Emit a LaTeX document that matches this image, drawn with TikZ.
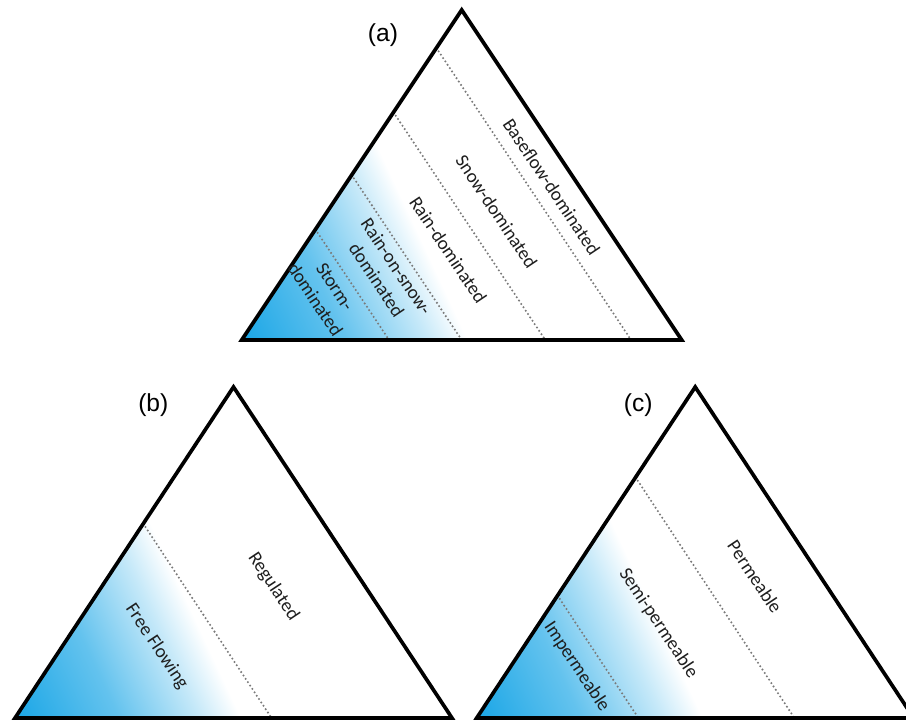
\documentclass[tikz,border=0pt]{standalone}
\usepackage{fontspec}
\setmainfont{Carlito}
\newfontfamily\tagfont{Liberation Sans}
\usepackage{xcolor}
\usepackage{tikz}
\usetikzlibrary{calc}
\definecolor{ink}{HTML}{1E1E1E}
\definecolor{water}{HTML}{1AA6E6}
\definecolor{dots}{HTML}{7A7A7A}
\pgfdeclarehorizontalshading{wetfade}{100bp}{color(0bp)=(water); color(25bp)=(water);
  color(48bp)=(water!68!white); color(66bp)=(water!25!white); color(75bp)=(white); color(100bp)=(white)}
\tikzset{
  tri/.style={draw=black, line width=2.1pt, line join=miter},
  div/.style={draw=dots, line width=1.3pt, line cap=round, dash pattern=on 0pt off 2.3pt},
  wet/.style={shading=wetfade},
  lab/.style={text=ink, font=\fontsize{10.8}{13.5}\selectfont, rotate=-56.31, align=center, inner sep=0pt},
  tag/.style={text=black, font=\tagfont\fontsize{14}{16}\selectfont, inner sep=0pt},
}

\begin{document}
\begin{tikzpicture}[x=0.02cm, y=0.02cm]
  \useasboundingbox (0,0) rectangle (906,720);
  \clip (0,0) rectangle (906,720);
  \def\fade{205}
  \def\tilt{25}

  % (a) streamflow regime
  \coordinate (La) at (241.7,380);
  \coordinate (Ra) at (681.7,380);
  \coordinate (Ta) at (461.7,710);
  % (b) regulation
  \coordinate (Lb) at (15,2);
  \coordinate (Rb) at (452,2);
  \coordinate (Tb) at (233.5,333);
  % (c) permeability
  \coordinate (Lc) at (476.7,2);
  \coordinate (Rc) at (913.7,2);
  \coordinate (Tc) at (695.2,333);

  \begin{scope}
    \clip (La) -- (Ta) -- (Ra) -- cycle;
    \shade[wet, transform canvas={rotate around={\tilt:(La)}}]
      ($(La)+(0,-\fade)$) rectangle ($(La)+(\fade,\fade)$);
  \end{scope}
  \begin{scope}
    \clip (Lb) -- (Tb) -- (Rb) -- cycle;
    \shade[wet, transform canvas={rotate around={\tilt:(Lb)}}]
      ($(Lb)+(0,-\fade)$) rectangle ($(Lb)+(\fade,\fade)$);
  \end{scope}
  \begin{scope}
    \clip (Lc) -- (Tc) -- (Rc) -- cycle;
    \shade[wet, transform canvas={rotate around={\tilt:(Lc)}}]
      ($(Lc)+(0,-\fade)$) rectangle ($(Lc)+(\fade,\fade)$);
  \end{scope}

  \draw[div] ($(La)!0.885!(Ta)$) -- ($(La)!0.885!(Ra)$);
  \draw[div] ($(La)!0.69!(Ta)$) -- ($(La)!0.69!(Ra)$);
  \draw[div] ($(La)!0.5!(Ta)$) -- ($(La)!0.5!(Ra)$);
  \draw[div] ($(La)!0.335!(Ta)$) -- ($(La)!0.335!(Ra)$);
  \draw[div] ($(Lb)!0.587!(Tb)$) -- ($(Lb)!0.587!(Rb)$);
  \draw[div] ($(Lc)!0.727!(Tc)$) -- ($(Lc)!0.727!(Rc)$);
  \draw[div] ($(Lc)!0.37!(Tc)$) -- ($(Lc)!0.37!(Rc)$);

  \draw[tri] (La) -- (Ta) -- (Ra) -- cycle;
  \draw[tri] (Lb) -- (Tb) -- (Rb) -- cycle;
  \draw[tri] (Lc) -- (Tc) -- (Rc) -- cycle;

  \node[lab] (baseflow) at (551.7,533.3) {Baseflow-dominated};
  \node[lab] (snow) at (496.7,508.3) {Snow-dominated};
  \node[lab] (rain) at (448.3,470) {Rain-dominated};
  \node[lab] (rainsnow) at (386.7,446.7) {Rain-on-snow-\\dominated};
  \node[lab] (storm) at (325,426.7) {Storm-\\dominated};
  \node[lab] (regulated) at (273.3,133.3) {Regulated};
  \node[lab] (free) at (156.7,73.3) {Free Flowing};
  \node[lab] (perm) at (755,143.3) {Permeable};
  \node[lab] (semi) at (658.3,96.7) {Semi-permeable};
  \node[lab] (imperm) at (576.7,53.3) {Impermeable};

  \node[tag] (tagA) at (383,685) {(a)};
  \node[tag] (tagB) at (153.3,315) {(b)};
  \node[tag] (tagC) at (638.3,315) {(c)};
\end{tikzpicture}
\end{document}
